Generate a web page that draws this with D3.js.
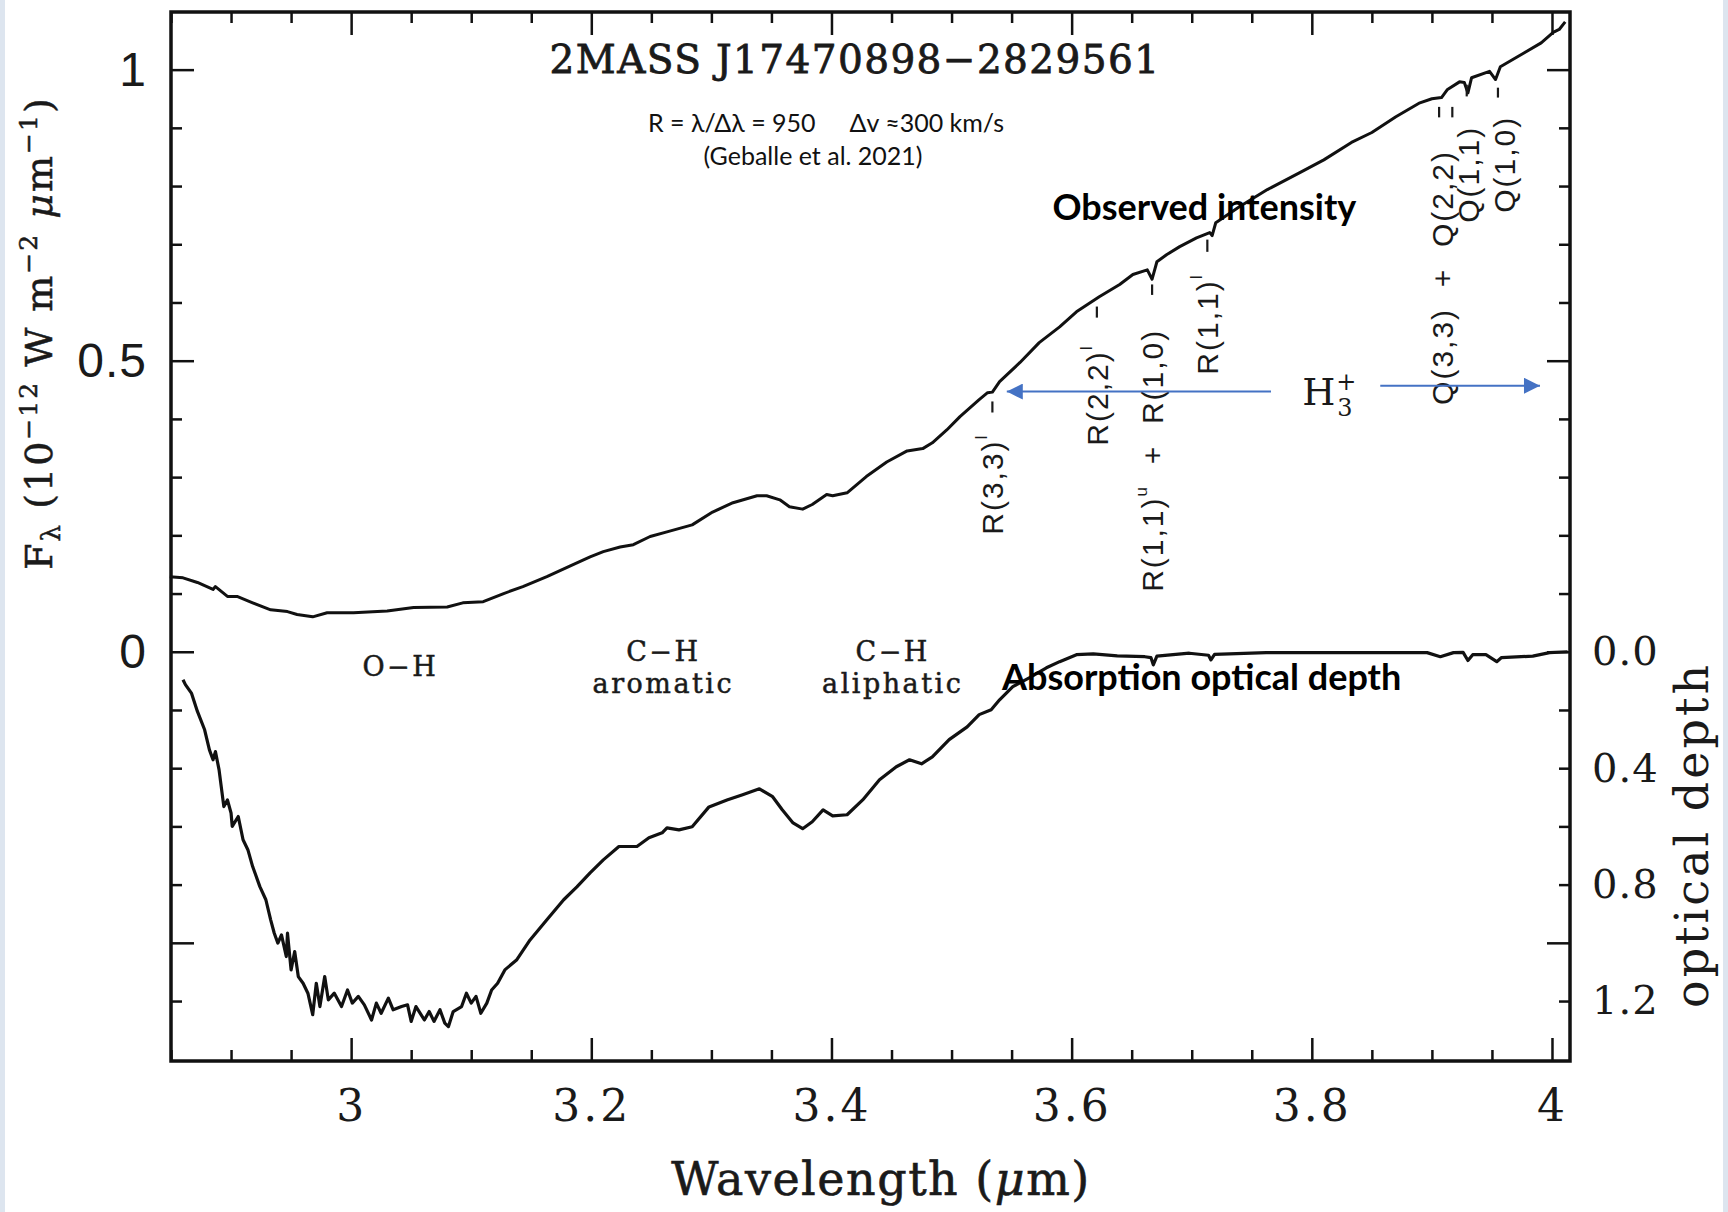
<!DOCTYPE html>
<html lang="en">
<head>
  <meta charset="UTF-8">
  <title>2MASS J17470898-2829561 spectrum</title>
  <script src="https://d3js.org/d3.v7.min.js"></script>
  <style>
    body { margin: 0; background: #dde5ef; }
    svg { display: block; }
  </style>
</head>
<body>
<div id="chart"></div>
<script>
// Observed flux, 10^-12 W m^-2 um^-1 (wavelength in um)
const fluxLam = [2.849, 2.860, 2.872, 2.885, 2.887, 2.897, 2.905, 2.918, 2.933, 2.947, 2.955, 2.968, 2.980, 3.002,
  3.030, 3.052, 3.080, 3.093, 3.110, 3.127, 3.143, 3.163, 3.183, 3.199, 3.210, 3.224, 3.235, 3.249, 3.263, 3.284,
  3.301, 3.318, 3.338, 3.346, 3.357, 3.365, 3.376, 3.384, 3.396, 3.401, 3.413, 3.429, 3.446, 3.463, 3.476, 3.484,
  3.496, 3.507, 3.523, 3.530, 3.534, 3.538, 3.540, 3.557, 3.573, 3.590, 3.604, 3.623, 3.640, 3.651, 3.663, 3.667,
  3.671, 3.679, 3.690, 3.704, 3.715, 3.717, 3.720, 3.740, 3.763, 3.790, 3.810, 3.833, 3.850, 3.870, 3.890, 3.900,
  3.908, 3.913, 3.923, 3.927, 3.930, 3.933, 3.948, 3.953, 3.957, 3.967, 3.977, 3.991, 4.001, 4.006, 4.011];
const fluxVal = [0.129, 0.127, 0.119, 0.107, 0.112, 0.095, 0.095, 0.084, 0.072, 0.069, 0.064, 0.060, 0.067, 0.067,
  0.070, 0.076, 0.077, 0.084, 0.086, 0.100, 0.112, 0.129, 0.148, 0.163, 0.172, 0.180, 0.184, 0.198, 0.206, 0.218,
  0.240, 0.256, 0.268, 0.268, 0.261, 0.249, 0.245, 0.253, 0.270, 0.268, 0.273, 0.301, 0.326, 0.345, 0.349, 0.359,
  0.381, 0.404, 0.433, 0.445, 0.446, 0.458, 0.464, 0.497, 0.531, 0.558, 0.584, 0.610, 0.631, 0.648, 0.656, 0.640,
  0.670, 0.682, 0.696, 0.711, 0.720, 0.715, 0.737, 0.765, 0.794, 0.823, 0.845, 0.875, 0.892, 0.919, 0.943, 0.950,
  0.952, 0.966, 0.979, 0.978, 0.960, 0.986, 0.997, 0.983, 1.005, 1.017, 1.029, 1.046, 1.064, 1.069, 1.082];

// Absorption optical depth
const tauLam = [2.860, 2.862, 2.867, 2.872, 2.878, 2.882, 2.885, 2.887, 2.890, 2.894, 2.897, 2.900, 2.901, 2.906,
  2.910, 2.914, 2.918, 2.924, 2.929, 2.933, 2.936, 2.939, 2.942, 2.946, 2.947, 2.950, 2.953, 2.956, 2.960, 2.964,
  2.968, 2.971, 2.974, 2.978, 2.981, 2.986, 2.992, 2.997, 3.001, 3.006, 3.011, 3.017, 3.021, 3.025, 3.031, 3.035,
  3.042, 3.047, 3.050, 3.054, 3.061, 3.065, 3.069, 3.074, 3.078, 3.081, 3.085, 3.092, 3.096, 3.100, 3.104, 3.108,
  3.113, 3.117, 3.122, 3.128, 3.138, 3.149, 3.163, 3.177, 3.188, 3.199, 3.210, 3.223, 3.238, 3.248, 3.259, 3.263,
  3.273, 3.284, 3.298, 3.313, 3.326, 3.340, 3.351, 3.359, 3.368, 3.376, 3.384, 3.393, 3.401, 3.413, 3.426, 3.440,
  3.454, 3.465, 3.475, 3.484, 3.498, 3.513, 3.523, 3.533, 3.540, 3.551, 3.565, 3.579, 3.590, 3.604, 3.618, 3.638,
  3.661, 3.666, 3.668, 3.671, 3.698, 3.714, 3.716, 3.719, 3.762, 3.854, 3.896, 3.907, 3.918, 3.926, 3.930, 3.934,
  3.945, 3.954, 3.958, 3.984, 3.998, 4.013];
const tauVal = [0.096, 0.113, 0.142, 0.205, 0.268, 0.337, 0.371, 0.343, 0.405, 0.532, 0.509, 0.554, 0.600, 0.566,
  0.646, 0.680, 0.738, 0.807, 0.852, 0.921, 0.967, 1.001, 0.973, 1.047, 0.967, 1.093, 1.030, 1.116, 1.139, 1.173,
  1.247, 1.139, 1.219, 1.116, 1.196, 1.173, 1.219, 1.162, 1.207, 1.184, 1.213, 1.265, 1.207, 1.242, 1.190, 1.230,
  1.219, 1.213, 1.270, 1.219, 1.265, 1.236, 1.270, 1.230, 1.276, 1.288, 1.236, 1.219, 1.173, 1.207, 1.184, 1.242,
  1.207, 1.162, 1.139, 1.093, 1.058, 0.990, 0.921, 0.852, 0.808, 0.760, 0.715, 0.669, 0.669, 0.639, 0.622, 0.605,
  0.612, 0.601, 0.533, 0.509, 0.491, 0.471, 0.498, 0.543, 0.588, 0.608, 0.584, 0.543, 0.564, 0.560, 0.509, 0.440,
  0.395, 0.371, 0.385, 0.361, 0.302, 0.258, 0.216, 0.199, 0.165, 0.120, 0.089, 0.055, 0.034, 0.010, 0.007, 0.014,
  0.017, 0.020, 0.045, 0.015, 0.005, 0.012, 0.028, 0.009, 0.003, 0.003, 0.003, 0.017, 0.003, 0.002, 0.030, 0.010,
  0.010, 0.034, 0.020, 0.015, 0.003, 0.000];

const xTickLabels = [3, 3.2, 3.4, 3.6, 3.8, 4];
const fluxTickLabels = [0, 0.5, 1];
const tauTickLabels = [0, 0.4, 0.8, 1.2];

// H3+ line identifications: wavelength, flux where text starts, marker span
const lineLam = [3.534, 3.621, 3.667, 3.713, 3.908, 3.930, 3.960];
const lineBase = [0.201, 0.354, 0.103, 0.476, 0.424, 0.737, 0.754];
const lineText = [["R(3,3)", "l", ""], ["R(2,2)", "l", ""], ["R(1,1)", "u", "  +  R(1,0)"], ["R(1,1)", "l", ""],
  ["Q(3,3)  +  Q(2,2)", "", ""], ["Q(1,1)", "", ""], ["Q(1,0)", "", ""]];
const markLam = [3.534, 3.621, 3.667, 3.713, 3.906, 3.917, 3.929, 3.955];
const markFlux = [[0.411, 0.430], [0.574, 0.593], [0.613, 0.631], [0.687, 0.708], [0.918, 0.936], [0.918, 0.936],
  [0.954, 0.974], [0.952, 0.969]];

// band labels below the zero line
const bandLam = [3.041, 3.260, 3.451];
const bandText = [["O−H"], ["C−H", "aromatic"], ["C−H", "aliphatic"]];

const W = 1728, H = 1212;
const plotL = 171, plotR = 1570, plotT = 12, plotB = 1061;

const x = d3.scaleLinear().domain([2.85, 4.015]).range([plotL, plotR]);
const y = d3.scaleLinear().domain([-0.703, 1.099]).range([plotB, plotT]);
const yTau = d3.scaleLinear().domain([0, 1.2]).range([y(0), y(-0.6)]);

const svg = d3.select("#chart").append("svg")
  .attr("width", W).attr("height", H);

svg.append("rect").attr("x", 5).attr("y", 0).attr("width", 1718).attr("height", H).attr("fill", "#fff");

// tick marks, all pointing inwards
const xAll = d3.range(24).map(i => +(2.85 + i * 0.05).toFixed(2));
const yAll = d3.range(17).map(i => +(-0.6 + i * 0.1).toFixed(1));
const isMajor = (v, step) => Math.abs(v / step - Math.round(v / step)) < 1e-6;

function ticks(gen, values, size, tr) {
  svg.append("g").attr("transform", tr)
    .call(gen.tickValues(values).tickSize(size).tickFormat(""))
    .call(g => g.select(".domain").remove())
    .selectAll("line").attr("stroke", "#111").attr("stroke-width", 2.5);
}
const xMaj = xAll.filter(v => isMajor(v, 0.2)), xMin = xAll.filter(v => !isMajor(v, 0.2));
const yMaj = yAll.filter(v => isMajor(v, 0.5)), yMin = yAll.filter(v => !isMajor(v, 0.5));
ticks(d3.axisBottom(x), xMin, -11, `translate(0,${plotB})`);
ticks(d3.axisBottom(x), xMaj, -23, `translate(0,${plotB})`);
ticks(d3.axisTop(x), xMin, -11, `translate(0,${plotT})`);
ticks(d3.axisTop(x), xMaj, -23, `translate(0,${plotT})`);
ticks(d3.axisLeft(y), yMin, -11, `translate(${plotL},0)`);
ticks(d3.axisLeft(y), yMaj, -23, `translate(${plotL},0)`);
ticks(d3.axisRight(y), yMin, -11, `translate(${plotR},0)`);
ticks(d3.axisRight(y), yMaj, -23, `translate(${plotR},0)`);

// tick labels
function labels(gen, tr, font, size, pad, spacing) {
  const g = svg.append("g").attr("transform", tr)
    .call(gen.tickSize(0).tickPadding(pad));
  g.select(".domain").remove();
  g.selectAll("text").attr("font-family", font).attr("font-size", size)
    .attr("letter-spacing", spacing).attr("fill", "#1a1a1a");
  return g;
}
labels(d3.axisBottom(x).tickValues(xTickLabels).tickFormat(d => String(d)),
  `translate(0,${plotB})`, "DejaVu Serif", 44, 29, 3);
labels(d3.axisLeft(y).tickValues(fluxTickLabels).tickFormat(d => String(d)),
  `translate(${plotL},0)`, "Liberation Sans", 48, 24, 1);
labels(d3.axisRight(yTau).tickValues(tauTickLabels).tickFormat(d3.format(".1f")),
  `translate(${plotR},0)`, "DejaVu Serif", 40, 22, 1);

// frame
svg.append("rect").attr("x", plotL).attr("y", plotT)
  .attr("width", plotR - plotL).attr("height", plotB - plotT)
  .attr("fill", "none").attr("stroke", "#111").attr("stroke-width", 3.5);

// spectra
const fluxLine = d3.line().x(d => x(d[0])).y(d => y(d[1]));
const tauLine = d3.line().x(d => x(d[0])).y(d => yTau(d[1]));
svg.append("path").datum(d3.zip(fluxLam, fluxVal)).attr("d", fluxLine)
  .attr("fill", "none").attr("stroke", "#111").attr("stroke-width", 3).attr("stroke-linejoin", "round");
svg.append("path").datum(d3.zip(tauLam, tauVal)).attr("d", tauLine)
  .attr("fill", "none").attr("stroke", "#111").attr("stroke-width", 3.2).attr("stroke-linejoin", "round");

// axis titles
const xt = svg.append("text").attr("x", 881).attr("y", 1195).attr("text-anchor", "middle")
  .attr("font-family", "DejaVu Serif").attr("font-size", 46).attr("letter-spacing", 1.5)
  .attr("fill", "#1a1a1a").attr("stroke", "#1a1a1a").attr("stroke-width", 0.6);
xt.append("tspan").text("Wavelength (");
xt.append("tspan").attr("font-style", "italic").text("μ");
xt.append("tspan").text("m)");

const yt = svg.append("text").attr("transform", "translate(52,333) rotate(-90)").attr("text-anchor", "middle")
  .attr("font-family", "DejaVu Serif").attr("font-size", 38).attr("letter-spacing", 2)
  .attr("fill", "#1a1a1a").attr("stroke", "#1a1a1a").attr("stroke-width", 0.5);
yt.append("tspan").text("F");
yt.append("tspan").attr("font-size", 26).attr("dy", 8).text("λ");
yt.append("tspan").attr("dy", -8).text(" (10");
yt.append("tspan").attr("font-size", 25).attr("dy", -15).text("−12");
yt.append("tspan").attr("dy", 15).text(" W m");
yt.append("tspan").attr("font-size", 25).attr("dy", -15).text("−2");
yt.append("tspan").attr("dy", 15).text(" ");
yt.append("tspan").attr("font-style", "italic").text("μ");
yt.append("tspan").text("m");
yt.append("tspan").attr("font-size", 25).attr("dy", -15).text("−1");
yt.append("tspan").attr("dy", 15).text(")");

svg.append("text").attr("transform", "translate(1708,835) rotate(-90)").attr("text-anchor", "middle")
  .attr("font-family", "DejaVu Serif").attr("font-size", 46).attr("letter-spacing", 3).attr("fill", "#1a1a1a")
  .text("optical depth");

// title and notes
svg.append("text").attr("x", 855).attr("y", 73).attr("text-anchor", "middle")
  .attr("font-family", "DejaVu Serif").attr("font-size", 39).attr("letter-spacing", 1.4).attr("fill", "#1a1a1a")
  .attr("stroke", "#1a1a1a").attr("stroke-width", 0.8)
  .text("2MASS J17470898−2829561");
const note = svg.append("text").attr("x", 826).attr("y", 132).attr("text-anchor", "middle")
  .attr("font-family", "Lato").attr("font-size", 25).attr("fill", "#111");
note.append("tspan").text("R = λ/Δλ = 950");
note.append("tspan").attr("dx", 34).text("Δv ≈300 km/s");
svg.append("text").attr("x", 813).attr("y", 165).attr("text-anchor", "middle")
  .attr("font-family", "Lato").attr("font-size", 25).attr("fill", "#111")
  .text("(Geballe et al. 2021)");

svg.append("text").attr("x", x(3.584)).attr("y", y(0.742))
  .attr("font-family", "Lato").attr("font-weight", "bold").attr("font-size", 36).attr("fill", "#000")
  .text("Observed intensity");
svg.append("text").attr("x", x(3.542)).attr("y", y(-0.065))
  .attr("font-family", "Lato").attr("font-weight", "bold").attr("font-size", 36).attr("fill", "#000")
  .text("Absorption optical depth");

// band labels, one text element each with stacked lines
bandText.forEach((lines, i) => {
  const t = svg.append("text").attr("text-anchor", "middle")
    .attr("font-family", "DejaVu Serif").attr("font-size", 27).attr("letter-spacing", 2.5)
    .attr("fill", "#1a1a1a").attr("stroke", "#1a1a1a").attr("stroke-width", 0.5);
  lines.forEach((s, j) => {
    t.append("tspan").attr("x", x(bandLam[i]))
      .attr("y", y(-0.016) + j * 32 + (lines.length === 1 ? 15 : 0)).text(s);
  });
});

// H3+ line labels (rotated)
lineText.forEach((parts, i) => {
  const t = svg.append("text")
    .attr("transform", `translate(${x(lineLam[i])},${y(lineBase[i])}) rotate(-90)`)
    .attr("dominant-baseline", "central")
    .attr("font-family", "Liberation Sans").attr("font-size", 30).attr("letter-spacing", 2)
    .attr("fill", "#1a1a1a").style("white-space", "pre");
  t.append("tspan").text(parts[0]);
  if (parts[1]) t.append("tspan").attr("font-size", 17).attr("dy", -11).text(parts[1]);
  if (parts[2]) t.append("tspan").attr("dy", 11).text(parts[2]);
});
svg.selectAll(".mark").data(d3.zip(markLam, markFlux)).join("line")
  .attr("x1", d => x(d[0])).attr("x2", d => x(d[0]))
  .attr("y1", d => y(d[1][0])).attr("y2", d => y(d[1][1]))
  .attr("stroke", "#1a1a1a").attr("stroke-width", 2.2);

// H3+ with arrows
const blue = "#4472C4";
const defs = svg.append("defs");
defs.append("marker").attr("id", "head").attr("viewBox", "0 0 10 10").attr("refX", 10).attr("refY", 5)
  .attr("markerWidth", 18).attr("markerHeight", 16).attr("markerUnits", "userSpaceOnUse").attr("orient", "auto")
  .append("path").attr("d", "M0,0 L10,5 L0,10 Z").attr("fill", blue);
const arrowFrom = [[3.766, 0.447], [3.857, 0.457]];
const arrowTo = [[3.546, 0.447], [3.990, 0.457]];
arrowFrom.forEach((a, i) => {
  svg.append("line").attr("x1", x(a[0])).attr("y1", y(a[1]))
    .attr("x2", x(arrowTo[i][0])).attr("y2", y(arrowTo[i][1]))
    .attr("stroke", blue).attr("stroke-width", 2).attr("marker-end", "url(#head)");
});
const hx = x(3.792), hy = y(0.424);
const hText = svg.append("text").attr("x", hx).attr("y", hy)
  .attr("font-family", "DejaVu Serif").attr("font-size", 38).attr("fill", "#1a1a1a").text("H");
const hw = hText.node().getComputedTextLength();
svg.append("text").attr("x", hx + hw + 1).attr("y", hy - 15)
  .attr("font-family", "DejaVu Serif").attr("font-size", 24).attr("fill", "#1a1a1a").text("+");
svg.append("text").attr("x", hx + hw + 2).attr("y", hy + 11)
  .attr("font-family", "DejaVu Serif").attr("font-size", 24).attr("fill", "#1a1a1a").text("3");
</script>
</body>
</html>
